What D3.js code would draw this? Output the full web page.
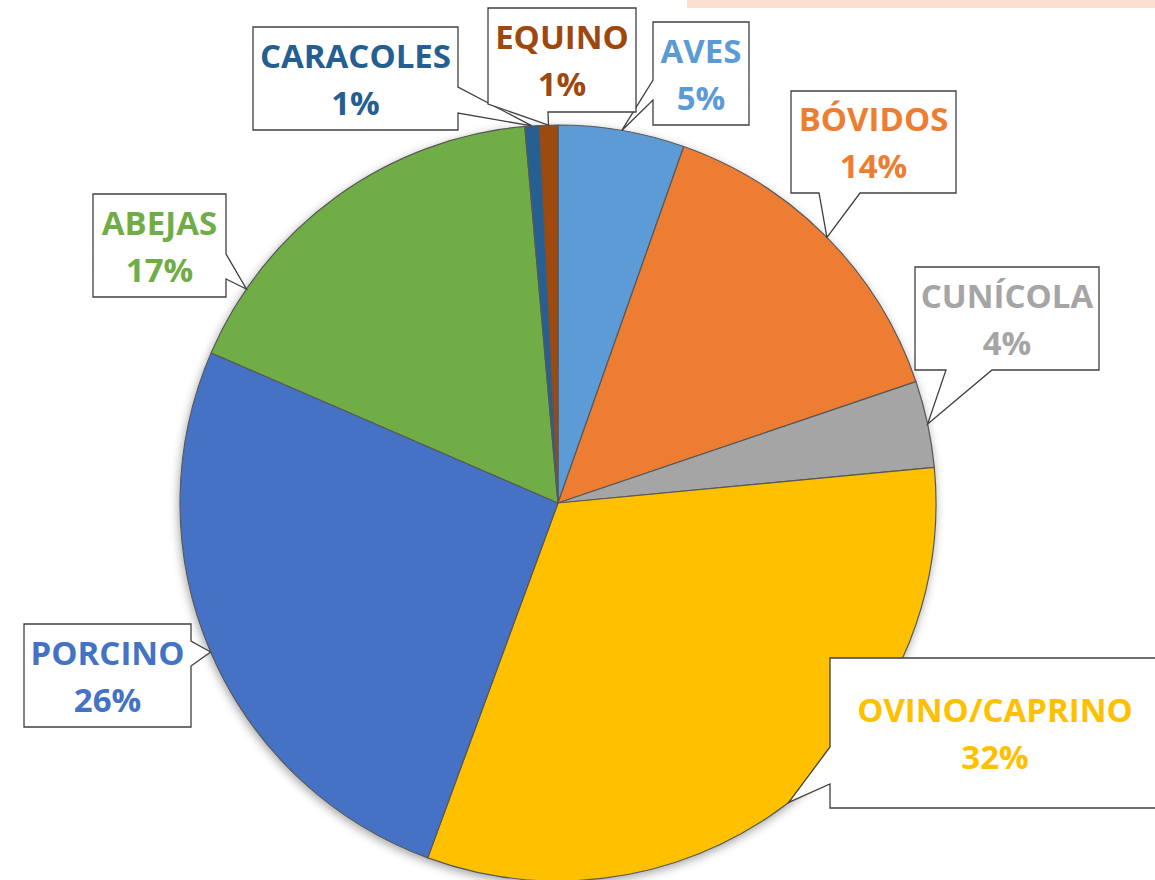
<!DOCTYPE html>
<html>
<head>
<meta charset="utf-8">
<script src="https://cdn.jsdelivr.net/npm/d3@7"></script>
<style>
  body { margin: 0; background: #fff; }
  svg { display: block; }
</style>
</head>
<body>
<svg id="svg_pie"></svg>
<script>
// data
const categories = ["AVES", "BÓVIDOS", "CUNÍCOLA", "OVINO/CAPRINO", "PORCINO", "ABEJAS", "CARACOLES", "EQUINO"];
const values = [5.4, 14.4, 3.7, 32.1, 25.9, 17.1, 0.6, 0.8];
const colors = ["#5B9BD5", "#ED7D31", "#A5A5A5", "#FFC000", "#4472C4", "#70AD47", "#255E91", "#9E480E"];

// callout boxes: [x0, y0, x1, y1], two base points of the pointer, where on the slice the tip goes
const callouts = [
  { box: [653, 22, 749, 125], base: [[653, 80], [653, 100]], tipAt: 0.5 },
  { box: [791, 91, 956, 193], base: [[819, 193], [860, 193]], tipAt: 0.5 },
  { box: [915, 267, 1099, 370], base: [[946, 370], [992, 370]], tipAt: 0.5 },
  { box: [830, 658, 1160, 808], base: [[830, 747], [830, 784]], tipAt: 0.5 },
  { box: [24, 624, 191, 727], base: [[191, 641], [191, 666]], tipAt: 0.5 },
  { box: [93, 194, 226, 297], base: [[226, 254], [226, 279]], tipAt: 0.18 },
  { box: [253, 27, 458, 130], base: [[458, 87], [458, 113]], tipAt: 0.5 },
  { box: [488, 8, 636, 112], base: [[488, 104], [548, 112]], tipAt: 0.5 },
];

function pieChart() {
  const width = 1155;
  const height = 880;
  const cx = 558;
  const cy = 503;
  const radius = 378;

  const svg = d3.select("#svg_pie").attr("width", width).attr("height", height);

  const defs = svg.append("defs");
  const shadow = defs.append("filter").attr("id", "shadow")
    .attr("x", "-10%").attr("y", "-10%").attr("width", "120%").attr("height", "120%");
  shadow.append("feDropShadow")
    .attr("dx", -1).attr("dy", 3).attr("stdDeviation", 5)
    .attr("flood-color", "#000").attr("flood-opacity", 0.35);

  // pink strip at the top right (leftover of the slide)
  svg.append("rect")
    .attr("x", 687).attr("y", 0).attr("width", width - 687).attr("height", 8)
    .style("fill", "#fcdfd0");

  const total = d3.sum(values);
  const pie = d3.pie().sort(null).value((d) => d);
  const arcs = pie(values);
  const arc = d3.arc().innerRadius(0).outerRadius(radius);

  const g = svg.append("g").attr("transform", `translate(${cx}, ${cy})`);

  g.append("g")
    .attr("filter", "url(#shadow)")
    .selectAll("path")
    .data(arcs)
    .join("path")
    .attr("d", arc)
    .style("fill", (d, i) => colors[i])
    .style("stroke", "#595959")
    .style("stroke-width", 1.2)
    .style("stroke-linejoin", "round");

  // point on the pie edge for a callout tip
  const tipPoint = (a, f) => {
    const ang = a.startAngle + (a.endAngle - a.startAngle) * f;
    return [cx + radius * Math.sin(ang), cy - radius * Math.cos(ang)];
  };

  // position of a point along the box perimeter, clockwise from top-left
  const perim = (box, p) => {
    const [x0, y0, x1, y1] = box;
    const w = x1 - x0, h = y1 - y0;
    if (p[1] === y0) return p[0] - x0;
    if (p[0] === x1) return w + (p[1] - y0);
    if (p[1] === y1) return w + h + (x1 - p[0]);
    return 2 * w + h + (y1 - p[1]);
  };

  const calloutPath = (c, tip) => {
    const [x0, y0, x1, y1] = c.box;
    const w = x1 - x0, h = y1 - y0;
    const corners = [[x0, y0, 0], [x1, y0, w], [x1, y1, w + h], [x0, y1, 2 * w + h]];
    const b = c.base.map((p) => [p[0], p[1], perim(c.box, p)]).sort((a, b) => a[2] - b[2]);
    const pts = [
      ...corners.filter((k) => k[2] < b[0][2]),
      b[0], tip, b[1],
      ...corners.filter((k) => k[2] > b[1][2]),
    ];
    return "M" + pts.map((p) => `${p[0]},${p[1]}`).join("L") + "Z";
  };

  const labels = svg.append("g")
    .selectAll("g")
    .data(callouts)
    .join("g");

  labels.append("path")
    .attr("d", (c, i) => calloutPath(c, tipPoint(arcs[i], c.tipAt)))
    .style("fill", "#fff")
    .style("stroke", "#404040")
    .style("stroke-width", 1.3)
    .style("stroke-linejoin", "miter");

  const text = labels.append("text")
    .attr("text-anchor", "middle")
    .style("font-family", "'Open Sans', sans-serif")
    .style("font-weight", 700)
    .style("font-size", "33px")
    .style("fill", (c, i) => colors[i]);

  text.append("tspan")
    .attr("x", (c) => (c.box[0] + c.box[2]) / 2)
    .attr("y", (c) => (c.box[1] + c.box[3]) / 2 - 11)
    .text((c, i) => categories[i]);

  text.append("tspan")
    .attr("x", (c) => (c.box[0] + c.box[2]) / 2)
    .attr("y", (c) => (c.box[1] + c.box[3]) / 2 + 36)
    .text((c, i) => Math.round((values[i] / total) * 100) + "%");
}

pieChart();
</script>
</body>
</html>
